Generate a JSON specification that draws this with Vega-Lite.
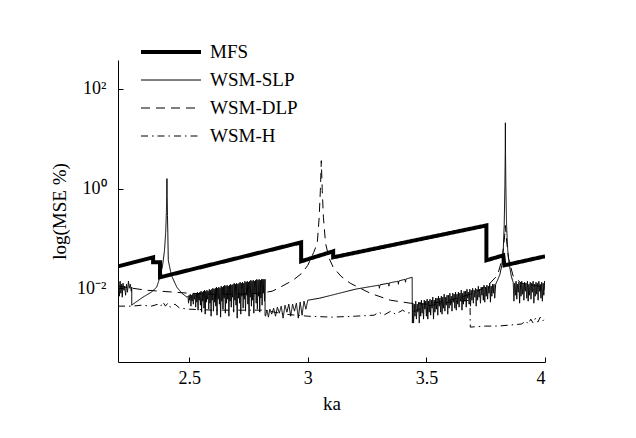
{
"$schema": "https://vega.github.io/schema/vega-lite/v6.json",
"width": 427, "height": 302,
"autosize": {"type": "none"},
"padding": {"left": 118, "top": 60, "right": 91, "bottom": 76},
"background": "white",
"config": {
  "font": "Liberation Serif",
  "view": {"stroke": null},
  "axis": {"grid": false, "domainColor": "black", "tickColor": "black", "labelColor": "black", "titleColor": "black", "labelFontSize": 18, "titleFontSize": 19, "titleFontWeight": "normal", "tickSize": -5, "domainWidth": 1, "tickWidth": 1},
  "legend": {"orient": "none", "legendX": 21, "legendY": -22, "symbolType": "stroke", "symbolSize": 3600, "symbolStrokeColor": "black", "labelFontSize": 19, "labelColor": "black", "labelOffset": 7, "padding": 0, "rowPadding": 0, "clipHeight": 28}
},
"data": {"values": [
{"series":"MFS","ka":2.2,"mse":0.0275},
{"series":"MFS","ka":2.348,"mse":0.0417},
{"series":"MFS","ka":2.348,"mse":0.0331},
{"series":"MFS","ka":2.377,"mse":0.0331},
{"series":"MFS","ka":2.377,"mse":0.0166},
{"series":"MFS","ka":2.972,"mse":0.0832},
{"series":"MFS","ka":2.972,"mse":0.0347},
{"series":"MFS","ka":3.107,"mse":0.055},
{"series":"MFS","ka":3.107,"mse":0.0417},
{"series":"MFS","ka":3.753,"mse":0.182},
{"series":"MFS","ka":3.753,"mse":0.0363},
{"series":"MFS","ka":3.824,"mse":0.0457},
{"series":"MFS","ka":3.829,"mse":0.0288},
{"series":"MFS","ka":4.0,"mse":0.0437},

{"series":"WSM-SLP","ka":2.200,"mse":0.00912},
{"series":"WSM-SLP","ka":2.203,"mse":0.0132},
{"series":"WSM-SLP","ka":2.206,"mse":0.00692},
{"series":"WSM-SLP","ka":2.209,"mse":0.0138},
{"series":"WSM-SLP","ka":2.212,"mse":0.00794},
{"series":"WSM-SLP","ka":2.215,"mse":0.0120},
{"series":"WSM-SLP","ka":2.218,"mse":0.00661},
{"series":"WSM-SLP","ka":2.221,"mse":0.0126},
{"series":"WSM-SLP","ka":2.225,"mse":0.00912},
{"series":"WSM-SLP","ka":2.228,"mse":0.0110},
{"series":"WSM-SLP","ka":2.232,"mse":0.00724},
{"series":"WSM-SLP","ka":2.236,"mse":0.0120},
{"series":"WSM-SLP","ka":2.240,"mse":0.00832},
{"series":"WSM-SLP","ka":2.244,"mse":0.0138},
{"series":"WSM-SLP","ka":2.248,"mse":0.0100},
{"series":"WSM-SLP","ka":2.252,"mse":0.0120},
{"series":"WSM-SLP","ka":2.256,"mse":0.00871},
{"series":"WSM-SLP","ka":2.258,"mse":0.0105},
{"series":"WSM-SLP","ka":2.258,"mse":0.00457},
{"series":"WSM-SLP","ka":2.263,"mse":0.00479},
{"series":"WSM-SLP","ka":2.305,"mse":0.00661},
{"series":"WSM-SLP","ka":2.340,"mse":0.00832},
{"series":"WSM-SLP","ka":2.363,"mse":0.0105},
{"series":"WSM-SLP","ka":2.377,"mse":0.0166},
{"series":"WSM-SLP","ka":2.388,"mse":0.0288},
{"series":"WSM-SLP","ka":2.396,"mse":0.0575},
{"series":"WSM-SLP","ka":2.401,"mse":0.132},
{"series":"WSM-SLP","ka":2.404,"mse":0.331},
{"series":"WSM-SLP","ka":2.4055,"mse":0.724},
{"series":"WSM-SLP","ka":2.4063,"mse":1.585},
{"series":"WSM-SLP","ka":2.407,"mse":0.724},
{"series":"WSM-SLP","ka":2.4085,"mse":0.288},
{"series":"WSM-SLP","ka":2.410,"mse":0.132},
{"series":"WSM-SLP","ka":2.412,"mse":0.0363},
{"series":"WSM-SLP","ka":2.425,"mse":0.0182},
{"series":"WSM-SLP","ka":2.448,"mse":0.0105},
{"series":"WSM-SLP","ka":2.469,"mse":0.00794},
{"series":"WSM-SLP","ka":2.491,"mse":0.00661},
{"series":"WSM-SLP","ka":2.4950,"mse":0.00692},
{"series":"WSM-SLP","ka":2.4975,"mse":0.00501},
{"series":"WSM-SLP","ka":2.5000,"mse":0.00724},
{"series":"WSM-SLP","ka":2.5025,"mse":0.00575},
{"series":"WSM-SLP","ka":2.5050,"mse":0.00759},
{"series":"WSM-SLP","ka":2.5075,"mse":0.00437},
{"series":"WSM-SLP","ka":2.5100,"mse":0.00724},
{"series":"WSM-SLP","ka":2.5125,"mse":0.00550},
{"series":"WSM-SLP","ka":2.5150,"mse":0.00759},
{"series":"WSM-SLP","ka":2.5175,"mse":0.00479},
{"series":"WSM-SLP","ka":2.5200,"mse":0.00794},
{"series":"WSM-SLP","ka":2.5225,"mse":0.00603},
{"series":"WSM-SLP","ka":2.5250,"mse":0.00759},
{"series":"WSM-SLP","ka":2.5275,"mse":0.00417},
{"series":"WSM-SLP","ka":2.5300,"mse":0.00794},
{"series":"WSM-SLP","ka":2.5325,"mse":0.00525},
{"series":"WSM-SLP","ka":2.5350,"mse":0.00832},
{"series":"WSM-SLP","ka":2.5375,"mse":0.00363},
{"series":"WSM-SLP","ka":2.5400,"mse":0.00794},
{"series":"WSM-SLP","ka":2.5425,"mse":0.00575},
{"series":"WSM-SLP","ka":2.5450,"mse":0.00832},
{"series":"WSM-SLP","ka":2.5475,"mse":0.00457},
{"series":"WSM-SLP","ka":2.5500,"mse":0.00871},
{"series":"WSM-SLP","ka":2.5525,"mse":0.00331},
{"series":"WSM-SLP","ka":2.5550,"mse":0.00832},
{"series":"WSM-SLP","ka":2.5575,"mse":0.00550},
{"series":"WSM-SLP","ka":2.5600,"mse":0.00871},
{"series":"WSM-SLP","ka":2.5625,"mse":0.00398},
{"series":"WSM-SLP","ka":2.5650,"mse":0.00912},
{"series":"WSM-SLP","ka":2.5675,"mse":0.00302},
{"series":"WSM-SLP","ka":2.5700,"mse":0.00871},
{"series":"WSM-SLP","ka":2.5725,"mse":0.00525},
{"series":"WSM-SLP","ka":2.5750,"mse":0.00912},
{"series":"WSM-SLP","ka":2.5775,"mse":0.00603},
{"series":"WSM-SLP","ka":2.5800,"mse":0.00871},
{"series":"WSM-SLP","ka":2.5825,"mse":0.00380},
{"series":"WSM-SLP","ka":2.5850,"mse":0.00955},
{"series":"WSM-SLP","ka":2.5875,"mse":0.00501},
{"series":"WSM-SLP","ka":2.5900,"mse":0.00912},
{"series":"WSM-SLP","ka":2.5925,"mse":0.00275},
{"series":"WSM-SLP","ka":2.5950,"mse":0.00955},
{"series":"WSM-SLP","ka":2.5975,"mse":0.00575},
{"series":"WSM-SLP","ka":2.6000,"mse":0.0100},
{"series":"WSM-SLP","ka":2.6025,"mse":0.00347},
{"series":"WSM-SLP","ka":2.6050,"mse":0.00955},
{"series":"WSM-SLP","ka":2.6075,"mse":0.00525},
{"series":"WSM-SLP","ka":2.6100,"mse":0.0100},
{"series":"WSM-SLP","ka":2.6125,"mse":0.00437},
{"series":"WSM-SLP","ka":2.6150,"mse":0.0105},
{"series":"WSM-SLP","ka":2.6175,"mse":0.00288},
{"series":"WSM-SLP","ka":2.6200,"mse":0.0100},
{"series":"WSM-SLP","ka":2.6225,"mse":0.00603},
{"series":"WSM-SLP","ka":2.6250,"mse":0.0105},
{"series":"WSM-SLP","ka":2.6275,"mse":0.00479},
{"series":"WSM-SLP","ka":2.6300,"mse":0.0100},
{"series":"WSM-SLP","ka":2.6325,"mse":0.00263},
{"series":"WSM-SLP","ka":2.6350,"mse":0.0110},
{"series":"WSM-SLP","ka":2.6375,"mse":0.00550},
{"series":"WSM-SLP","ka":2.6400,"mse":0.0105},
{"series":"WSM-SLP","ka":2.6425,"mse":0.00380},
{"series":"WSM-SLP","ka":2.6450,"mse":0.0110},
{"series":"WSM-SLP","ka":2.6475,"mse":0.00631},
{"series":"WSM-SLP","ka":2.6500,"mse":0.0115},
{"series":"WSM-SLP","ka":2.6525,"mse":0.00316},
{"series":"WSM-SLP","ka":2.6550,"mse":0.0110},
{"series":"WSM-SLP","ka":2.6575,"mse":0.00501},
{"series":"WSM-SLP","ka":2.6600,"mse":0.0115},
{"series":"WSM-SLP","ka":2.6625,"mse":0.00603},
{"series":"WSM-SLP","ka":2.6650,"mse":0.0110},
{"series":"WSM-SLP","ka":2.6675,"mse":0.00275},
{"series":"WSM-SLP","ka":2.6700,"mse":0.0115},
{"series":"WSM-SLP","ka":2.6725,"mse":0.00550},
{"series":"WSM-SLP","ka":2.6750,"mse":0.0120},
{"series":"WSM-SLP","ka":2.6775,"mse":0.00417},
{"series":"WSM-SLP","ka":2.6800,"mse":0.0115},
{"series":"WSM-SLP","ka":2.6825,"mse":0.00661},
{"series":"WSM-SLP","ka":2.6850,"mse":0.0120},
{"series":"WSM-SLP","ka":2.6875,"mse":0.00331},
{"series":"WSM-SLP","ka":2.6900,"mse":0.0126},
{"series":"WSM-SLP","ka":2.6925,"mse":0.00575},
{"series":"WSM-SLP","ka":2.6950,"mse":0.0120},
{"series":"WSM-SLP","ka":2.6975,"mse":0.00457},
{"series":"WSM-SLP","ka":2.7000,"mse":0.0126},
{"series":"WSM-SLP","ka":2.7025,"mse":0.00251},
{"series":"WSM-SLP","ka":2.7050,"mse":0.0120},
{"series":"WSM-SLP","ka":2.7075,"mse":0.00631},
{"series":"WSM-SLP","ka":2.7100,"mse":0.0126},
{"series":"WSM-SLP","ka":2.7125,"mse":0.00501},
{"series":"WSM-SLP","ka":2.7150,"mse":0.0132},
{"series":"WSM-SLP","ka":2.7175,"mse":0.00302},
{"series":"WSM-SLP","ka":2.7200,"mse":0.0126},
{"series":"WSM-SLP","ka":2.7225,"mse":0.00692},
{"series":"WSM-SLP","ka":2.7250,"mse":0.0132},
{"series":"WSM-SLP","ka":2.7275,"mse":0.00398},
{"series":"WSM-SLP","ka":2.7300,"mse":0.0126},
{"series":"WSM-SLP","ka":2.7325,"mse":0.00603},
{"series":"WSM-SLP","ka":2.7350,"mse":0.0138},
{"series":"WSM-SLP","ka":2.7375,"mse":0.00347},
{"series":"WSM-SLP","ka":2.7400,"mse":0.0132},
{"series":"WSM-SLP","ka":2.7425,"mse":0.00724},
{"series":"WSM-SLP","ka":2.7450,"mse":0.0138},
{"series":"WSM-SLP","ka":2.7475,"mse":0.00479},
{"series":"WSM-SLP","ka":2.7500,"mse":0.0132},
{"series":"WSM-SLP","ka":2.7525,"mse":0.00275},
{"series":"WSM-SLP","ka":2.7550,"mse":0.0138},
{"series":"WSM-SLP","ka":2.7575,"mse":0.00661},
{"series":"WSM-SLP","ka":2.7600,"mse":0.0145},
{"series":"WSM-SLP","ka":2.7625,"mse":0.00437},
{"series":"WSM-SLP","ka":2.7650,"mse":0.0138},
{"series":"WSM-SLP","ka":2.7675,"mse":0.00575},
{"series":"WSM-SLP","ka":2.7700,"mse":0.0145},
{"series":"WSM-SLP","ka":2.7725,"mse":0.00316},
{"series":"WSM-SLP","ka":2.7750,"mse":0.0138},
{"series":"WSM-SLP","ka":2.7775,"mse":0.00759},
{"series":"WSM-SLP","ka":2.7800,"mse":0.0145},
{"series":"WSM-SLP","ka":2.7825,"mse":0.00501},
{"series":"WSM-SLP","ka":2.7850,"mse":0.0151},
{"series":"WSM-SLP","ka":2.7875,"mse":0.00380},
{"series":"WSM-SLP","ka":2.7900,"mse":0.0145},
{"series":"WSM-SLP","ka":2.7925,"mse":0.00692},
{"series":"WSM-SLP","ka":2.7950,"mse":0.0151},
{"series":"WSM-SLP","ka":2.7975,"mse":0.00331},
{"series":"WSM-SLP","ka":2.8000,"mse":0.0145},
{"series":"WSM-SLP","ka":2.8025,"mse":0.00631},
{"series":"WSM-SLP","ka":2.8050,"mse":0.0151},
{"series":"WSM-SLP","ka":2.8075,"mse":0.00457},
{"series":"WSM-SLP","ka":2.8100,"mse":0.0151},
{"series":"WSM-SLP","ka":2.8125,"mse":0.00794},
{"series":"WSM-SLP","ka":2.8150,"mse":0.0151},
{"series":"WSM-SLP","ka":2.8175,"mse":0.00550},
{"series":"WSM-SLP","ka":2.8200,"mse":0.0151},
{"series":"WSM-SLP","ka":2.8200,"mse":0.00288},
{"series":"WSM-SLP","ka":2.822,"mse":0.00275},
{"series":"WSM-SLP","ka":2.828,"mse":0.00363},
{"series":"WSM-SLP","ka":2.834,"mse":0.00263},
{"series":"WSM-SLP","ka":2.840,"mse":0.00380},
{"series":"WSM-SLP","ka":2.848,"mse":0.00302},
{"series":"WSM-SLP","ka":2.856,"mse":0.00398},
{"series":"WSM-SLP","ka":2.864,"mse":0.00275},
{"series":"WSM-SLP","ka":2.872,"mse":0.00417},
{"series":"WSM-SLP","ka":2.880,"mse":0.00316},
{"series":"WSM-SLP","ka":2.888,"mse":0.00437},
{"series":"WSM-SLP","ka":2.896,"mse":0.00251},
{"series":"WSM-SLP","ka":2.904,"mse":0.00457},
{"series":"WSM-SLP","ka":2.912,"mse":0.00331},
{"series":"WSM-SLP","ka":2.920,"mse":0.00479},
{"series":"WSM-SLP","ka":2.928,"mse":0.00275},
{"series":"WSM-SLP","ka":2.936,"mse":0.00479},
{"series":"WSM-SLP","ka":2.944,"mse":0.00347},
{"series":"WSM-SLP","ka":2.952,"mse":0.00501},
{"series":"WSM-SLP","ka":2.960,"mse":0.00251},
{"series":"WSM-SLP","ka":2.968,"mse":0.00525},
{"series":"WSM-SLP","ka":2.976,"mse":0.00288},
{"series":"WSM-SLP","ka":2.984,"mse":0.00550},
{"series":"WSM-SLP","ka":2.992,"mse":0.00380},
{"series":"WSM-SLP","ka":3.000,"mse":0.00575},
{"series":"WSM-SLP","ka":3.050,"mse":0.00631},
{"series":"WSM-SLP","ka":3.100,"mse":0.00724},
{"series":"WSM-SLP","ka":3.150,"mse":0.00832},
{"series":"WSM-SLP","ka":3.200,"mse":0.00955},
{"series":"WSM-SLP","ka":3.250,"mse":0.0105},
{"series":"WSM-SLP","ka":3.300,"mse":0.0115},
{"series":"WSM-SLP","ka":3.302,"mse":0.0100},
{"series":"WSM-SLP","ka":3.304,"mse":0.0117},
{"series":"WSM-SLP","ka":3.340,"mse":0.0126},
{"series":"WSM-SLP","ka":3.342,"mse":0.0110},
{"series":"WSM-SLP","ka":3.344,"mse":0.0128},
{"series":"WSM-SLP","ka":3.380,"mse":0.0138},
{"series":"WSM-SLP","ka":3.382,"mse":0.0120},
{"series":"WSM-SLP","ka":3.384,"mse":0.0140},
{"series":"WSM-SLP","ka":3.410,"mse":0.0151},
{"series":"WSM-SLP","ka":3.412,"mse":0.0132},
{"series":"WSM-SLP","ka":3.414,"mse":0.0153},
{"series":"WSM-SLP","ka":3.440,"mse":0.0166},
{"series":"WSM-SLP","ka":3.441,"mse":0.00200},
{"series":"WSM-SLP","ka":3.443,"mse":0.00501},
{"series":"WSM-SLP","ka":3.446,"mse":0.00200},
{"series":"WSM-SLP","ka":3.449,"mse":0.00479},
{"series":"WSM-SLP","ka":3.452,"mse":0.00275},
{"series":"WSM-SLP","ka":3.455,"mse":0.00550},
{"series":"WSM-SLP","ka":3.458,"mse":0.00240},
{"series":"WSM-SLP","ka":3.461,"mse":0.00479},
{"series":"WSM-SLP","ka":3.464,"mse":0.00331},
{"series":"WSM-SLP","ka":3.467,"mse":0.00525},
{"series":"WSM-SLP","ka":3.470,"mse":0.00200},
{"series":"WSM-SLP","ka":3.473,"mse":0.00525},
{"series":"WSM-SLP","ka":3.476,"mse":0.00275},
{"series":"WSM-SLP","ka":3.479,"mse":0.00575},
{"series":"WSM-SLP","ka":3.482,"mse":0.00316},
{"series":"WSM-SLP","ka":3.485,"mse":0.00501},
{"series":"WSM-SLP","ka":3.488,"mse":0.00240},
{"series":"WSM-SLP","ka":3.491,"mse":0.00575},
{"series":"WSM-SLP","ka":3.494,"mse":0.00380},
{"series":"WSM-SLP","ka":3.497,"mse":0.00550},
{"series":"WSM-SLP","ka":3.500,"mse":0.00275},
{"series":"WSM-SLP","ka":3.503,"mse":0.00603},
{"series":"WSM-SLP","ka":3.506,"mse":0.00240},
{"series":"WSM-SLP","ka":3.509,"mse":0.00550},
{"series":"WSM-SLP","ka":3.512,"mse":0.00331},
{"series":"WSM-SLP","ka":3.515,"mse":0.00603},
{"series":"WSM-SLP","ka":3.518,"mse":0.00288},
{"series":"WSM-SLP","ka":3.521,"mse":0.00575},
{"series":"WSM-SLP","ka":3.524,"mse":0.00398},
{"series":"WSM-SLP","ka":3.527,"mse":0.00661},
{"series":"WSM-SLP","ka":3.530,"mse":0.00240},
{"series":"WSM-SLP","ka":3.533,"mse":0.00575},
{"series":"WSM-SLP","ka":3.536,"mse":0.00331},
{"series":"WSM-SLP","ka":3.539,"mse":0.00631},
{"series":"WSM-SLP","ka":3.542,"mse":0.00380},
{"series":"WSM-SLP","ka":3.545,"mse":0.00631},
{"series":"WSM-SLP","ka":3.548,"mse":0.00288},
{"series":"WSM-SLP","ka":3.551,"mse":0.00692},
{"series":"WSM-SLP","ka":3.554,"mse":0.00437},
{"series":"WSM-SLP","ka":3.557,"mse":0.00631},
{"series":"WSM-SLP","ka":3.560,"mse":0.00331},
{"series":"WSM-SLP","ka":3.563,"mse":0.00692},
{"series":"WSM-SLP","ka":3.566,"mse":0.00302},
{"series":"WSM-SLP","ka":3.569,"mse":0.00661},
{"series":"WSM-SLP","ka":3.572,"mse":0.00398},
{"series":"WSM-SLP","ka":3.575,"mse":0.00759},
{"series":"WSM-SLP","ka":3.578,"mse":0.00347},
{"series":"WSM-SLP","ka":3.581,"mse":0.00661},
{"series":"WSM-SLP","ka":3.584,"mse":0.00457},
{"series":"WSM-SLP","ka":3.587,"mse":0.00724},
{"series":"WSM-SLP","ka":3.590,"mse":0.00302},
{"series":"WSM-SLP","ka":3.593,"mse":0.00724},
{"series":"WSM-SLP","ka":3.596,"mse":0.00398},
{"series":"WSM-SLP","ka":3.599,"mse":0.00794},
{"series":"WSM-SLP","ka":3.602,"mse":0.00457},
{"series":"WSM-SLP","ka":3.605,"mse":0.00692},
{"series":"WSM-SLP","ka":3.608,"mse":0.00347},
{"series":"WSM-SLP","ka":3.611,"mse":0.00794},
{"series":"WSM-SLP","ka":3.614,"mse":0.00525},
{"series":"WSM-SLP","ka":3.617,"mse":0.00759},
{"series":"WSM-SLP","ka":3.620,"mse":0.00398},
{"series":"WSM-SLP","ka":3.623,"mse":0.00832},
{"series":"WSM-SLP","ka":3.626,"mse":0.00363},
{"series":"WSM-SLP","ka":3.629,"mse":0.00759},
{"series":"WSM-SLP","ka":3.632,"mse":0.00479},
{"series":"WSM-SLP","ka":3.635,"mse":0.00832},
{"series":"WSM-SLP","ka":3.638,"mse":0.00417},
{"series":"WSM-SLP","ka":3.641,"mse":0.00794},
{"series":"WSM-SLP","ka":3.644,"mse":0.00550},
{"series":"WSM-SLP","ka":3.647,"mse":0.00912},
{"series":"WSM-SLP","ka":3.650,"mse":0.00363},
{"series":"WSM-SLP","ka":3.653,"mse":0.00794},
{"series":"WSM-SLP","ka":3.656,"mse":0.00479},
{"series":"WSM-SLP","ka":3.659,"mse":0.00871},
{"series":"WSM-SLP","ka":3.662,"mse":0.00550},
{"series":"WSM-SLP","ka":3.665,"mse":0.00871},
{"series":"WSM-SLP","ka":3.668,"mse":0.00417},
{"series":"WSM-SLP","ka":3.671,"mse":0.00955},
{"series":"WSM-SLP","ka":3.674,"mse":0.00631},
{"series":"WSM-SLP","ka":3.677,"mse":0.00832},
{"series":"WSM-SLP","ka":3.680,"mse":0.00479},
{"series":"WSM-SLP","ka":3.683,"mse":0.00955},
{"series":"WSM-SLP","ka":3.686,"mse":0.00437},
{"series":"WSM-SLP","ka":3.689,"mse":0.00912},
{"series":"WSM-SLP","ka":3.692,"mse":0.00575},
{"series":"WSM-SLP","ka":3.695,"mse":0.0100},
{"series":"WSM-SLP","ka":3.698,"mse":0.00501},
{"series":"WSM-SLP","ka":3.701,"mse":0.00912},
{"series":"WSM-SLP","ka":3.704,"mse":0.00661},
{"series":"WSM-SLP","ka":3.707,"mse":0.0100},
{"series":"WSM-SLP","ka":3.710,"mse":0.00437},
{"series":"WSM-SLP","ka":3.713,"mse":0.00955},
{"series":"WSM-SLP","ka":3.716,"mse":0.00575},
{"series":"WSM-SLP","ka":3.719,"mse":0.0110},
{"series":"WSM-SLP","ka":3.722,"mse":0.00661},
{"series":"WSM-SLP","ka":3.725,"mse":0.00955},
{"series":"WSM-SLP","ka":3.728,"mse":0.00501},
{"series":"WSM-SLP","ka":3.731,"mse":0.0105},
{"series":"WSM-SLP","ka":3.734,"mse":0.00724},
{"series":"WSM-SLP","ka":3.737,"mse":0.0105},
{"series":"WSM-SLP","ka":3.740,"mse":0.00575},
{"series":"WSM-SLP","ka":3.743,"mse":0.0115},
{"series":"WSM-SLP","ka":3.746,"mse":0.00525},
{"series":"WSM-SLP","ka":3.749,"mse":0.0105},
{"series":"WSM-SLP","ka":3.752,"mse":0.00692},
{"series":"WSM-SLP","ka":3.755,"mse":0.0115},
{"series":"WSM-SLP","ka":3.758,"mse":0.00603},
{"series":"WSM-SLP","ka":3.761,"mse":0.0110},
{"series":"WSM-SLP","ka":3.764,"mse":0.00794},
{"series":"WSM-SLP","ka":3.767,"mse":0.0126},
{"series":"WSM-SLP","ka":3.770,"mse":0.00525},
{"series":"WSM-SLP","ka":3.773,"mse":0.0110},
{"series":"WSM-SLP","ka":3.776,"mse":0.00692},
{"series":"WSM-SLP","ka":3.779,"mse":0.0120},
{"series":"WSM-SLP","ka":3.782,"mse":0.00794},
{"series":"WSM-SLP","ka":3.785,"mse":0.0120},
{"series":"WSM-SLP","ka":3.788,"mse":0.00631},
{"series":"WSM-SLP","ka":3.792,"mse":0.0120},
{"series":"WSM-SLP","ka":3.800,"mse":0.0145},
{"series":"WSM-SLP","ka":3.810,"mse":0.0191},
{"series":"WSM-SLP","ka":3.818,"mse":0.0288},
{"series":"WSM-SLP","ka":3.824,"mse":0.0575},
{"series":"WSM-SLP","ka":3.828,"mse":0.182},
{"series":"WSM-SLP","ka":3.831,"mse":1.148},
{"series":"WSM-SLP","ka":3.8325,"mse":5.754},
{"series":"WSM-SLP","ka":3.833,"mse":20.9},
{"series":"WSM-SLP","ka":3.8335,"mse":5.754},
{"series":"WSM-SLP","ka":3.835,"mse":1.148},
{"series":"WSM-SLP","ka":3.838,"mse":0.182},
{"series":"WSM-SLP","ka":3.843,"mse":0.0575},
{"series":"WSM-SLP","ka":3.850,"mse":0.0288},
{"series":"WSM-SLP","ka":3.858,"mse":0.0174},
{"series":"WSM-SLP","ka":3.863,"mse":0.0145},
{"series":"WSM-SLP","ka":3.866,"mse":0.0132},
{"series":"WSM-SLP","ka":3.869,"mse":0.00550},
{"series":"WSM-SLP","ka":3.872,"mse":0.0126},
{"series":"WSM-SLP","ka":3.875,"mse":0.00724},
{"series":"WSM-SLP","ka":3.878,"mse":0.0138},
{"series":"WSM-SLP","ka":3.881,"mse":0.00603},
{"series":"WSM-SLP","ka":3.884,"mse":0.0120},
{"series":"WSM-SLP","ka":3.887,"mse":0.00832},
{"series":"WSM-SLP","ka":3.890,"mse":0.0132},
{"series":"WSM-SLP","ka":3.893,"mse":0.00501},
{"series":"WSM-SLP","ka":3.896,"mse":0.0126},
{"series":"WSM-SLP","ka":3.899,"mse":0.00692},
{"series":"WSM-SLP","ka":3.902,"mse":0.0138},
{"series":"WSM-SLP","ka":3.905,"mse":0.00759},
{"series":"WSM-SLP","ka":3.908,"mse":0.0120},
{"series":"WSM-SLP","ka":3.911,"mse":0.00575},
{"series":"WSM-SLP","ka":3.914,"mse":0.0132},
{"series":"WSM-SLP","ka":3.917,"mse":0.00871},
{"series":"WSM-SLP","ka":3.920,"mse":0.0126},
{"series":"WSM-SLP","ka":3.923,"mse":0.00631},
{"series":"WSM-SLP","ka":3.926,"mse":0.0138},
{"series":"WSM-SLP","ka":3.929,"mse":0.00550},
{"series":"WSM-SLP","ka":3.932,"mse":0.0120},
{"series":"WSM-SLP","ka":3.935,"mse":0.00724},
{"series":"WSM-SLP","ka":3.938,"mse":0.0132},
{"series":"WSM-SLP","ka":3.941,"mse":0.00603},
{"series":"WSM-SLP","ka":3.944,"mse":0.0126},
{"series":"WSM-SLP","ka":3.947,"mse":0.00832},
{"series":"WSM-SLP","ka":3.950,"mse":0.0138},
{"series":"WSM-SLP","ka":3.953,"mse":0.00501},
{"series":"WSM-SLP","ka":3.956,"mse":0.0120},
{"series":"WSM-SLP","ka":3.959,"mse":0.00692},
{"series":"WSM-SLP","ka":3.962,"mse":0.0132},
{"series":"WSM-SLP","ka":3.965,"mse":0.00759},
{"series":"WSM-SLP","ka":3.968,"mse":0.0126},
{"series":"WSM-SLP","ka":3.971,"mse":0.00575},
{"series":"WSM-SLP","ka":3.974,"mse":0.0138},
{"series":"WSM-SLP","ka":3.977,"mse":0.00871},
{"series":"WSM-SLP","ka":3.980,"mse":0.0120},
{"series":"WSM-SLP","ka":3.983,"mse":0.00631},
{"series":"WSM-SLP","ka":3.986,"mse":0.0132},
{"series":"WSM-SLP","ka":3.989,"mse":0.00550},
{"series":"WSM-SLP","ka":3.992,"mse":0.0126},
{"series":"WSM-SLP","ka":3.995,"mse":0.00724},
{"series":"WSM-SLP","ka":3.998,"mse":0.0138},
{"series":"WSM-SLP","ka":4.000,"mse":0.00912},

{"series":"WSM-DLP","ka":2.200,"mse":0.0110},
{"series":"WSM-DLP","ka":2.260,"mse":0.0100},
{"series":"WSM-DLP","ka":2.320,"mse":0.00912},
{"series":"WSM-DLP","ka":2.380,"mse":0.00871},
{"series":"WSM-DLP","ka":2.440,"mse":0.00832},
{"series":"WSM-DLP","ka":2.500,"mse":0.00794},
{"series":"WSM-DLP","ka":2.600,"mse":0.00759},
{"series":"WSM-DLP","ka":2.700,"mse":0.00759},
{"series":"WSM-DLP","ka":2.800,"mse":0.00794},
{"series":"WSM-DLP","ka":2.850,"mse":0.00871},
{"series":"WSM-DLP","ka":2.884,"mse":0.0105},
{"series":"WSM-DLP","ka":2.938,"mse":0.0145},
{"series":"WSM-DLP","ka":2.975,"mse":0.0200},
{"series":"WSM-DLP","ka":3.000,"mse":0.0288},
{"series":"WSM-DLP","ka":3.025,"mse":0.0525},
{"series":"WSM-DLP","ka":3.040,"mse":0.0794},
{"series":"WSM-DLP","ka":3.048,"mse":0.263},
{"series":"WSM-DLP","ka":3.053,"mse":0.912},
{"series":"WSM-DLP","ka":3.057,"mse":3.63},
{"series":"WSM-DLP","ka":3.061,"mse":0.912},
{"series":"WSM-DLP","ka":3.066,"mse":0.263},
{"series":"WSM-DLP","ka":3.075,"mse":0.0794},
{"series":"WSM-DLP","ka":3.090,"mse":0.0398},
{"series":"WSM-DLP","ka":3.107,"mse":0.0263},
{"series":"WSM-DLP","ka":3.140,"mse":0.0174},
{"series":"WSM-DLP","ka":3.179,"mse":0.0126},
{"series":"WSM-DLP","ka":3.263,"mse":0.00794},
{"series":"WSM-DLP","ka":3.348,"mse":0.00575},
{"series":"WSM-DLP","ka":3.432,"mse":0.00501},
{"series":"WSM-DLP","ka":3.500,"mse":0.00479},
{"series":"WSM-DLP","ka":3.600,"mse":0.00575},
{"series":"WSM-DLP","ka":3.700,"mse":0.00794},
{"series":"WSM-DLP","ka":3.760,"mse":0.0115},
{"series":"WSM-DLP","ka":3.800,"mse":0.0182},
{"series":"WSM-DLP","ka":3.820,"mse":0.0398},
{"series":"WSM-DLP","ka":3.830,"mse":0.115},
{"series":"WSM-DLP","ka":3.833,"mse":0.182},
{"series":"WSM-DLP","ka":3.836,"mse":0.115},
{"series":"WSM-DLP","ka":3.846,"mse":0.0398},
{"series":"WSM-DLP","ka":3.866,"mse":0.0174},
{"series":"WSM-DLP","ka":3.900,"mse":0.0126},
{"series":"WSM-DLP","ka":4.000,"mse":0.0105},

{"series":"WSM-H","ka":2.200,"mse":0.00437},
{"series":"WSM-H","ka":2.260,"mse":0.00437},
{"series":"WSM-H","ka":2.300,"mse":0.00457},
{"series":"WSM-H","ka":2.340,"mse":0.00437},
{"series":"WSM-H","ka":2.370,"mse":0.00479},
{"series":"WSM-H","ka":2.380,"mse":0.00437},
{"series":"WSM-H","ka":2.390,"mse":0.00525},
{"series":"WSM-H","ka":2.400,"mse":0.00437},
{"series":"WSM-H","ka":2.410,"mse":0.00501},
{"series":"WSM-H","ka":2.420,"mse":0.00417},
{"series":"WSM-H","ka":2.440,"mse":0.00479},
{"series":"WSM-H","ka":2.460,"mse":0.00398},
{"series":"WSM-H","ka":2.500,"mse":0.00380},
{"series":"WSM-H","ka":2.600,"mse":0.00363},
{"series":"WSM-H","ka":2.700,"mse":0.00363},
{"series":"WSM-H","ka":2.820,"mse":0.00363},
{"series":"WSM-H","ka":2.900,"mse":0.00302},
{"series":"WSM-H","ka":3.000,"mse":0.00275},
{"series":"WSM-H","ka":3.100,"mse":0.00263},
{"series":"WSM-H","ka":3.200,"mse":0.00275},
{"series":"WSM-H","ka":3.280,"mse":0.00288},
{"series":"WSM-H","ka":3.300,"mse":0.00331},
{"series":"WSM-H","ka":3.320,"mse":0.00288},
{"series":"WSM-H","ka":3.350,"mse":0.00347},
{"series":"WSM-H","ka":3.370,"mse":0.00302},
{"series":"WSM-H","ka":3.400,"mse":0.00363},
{"series":"WSM-H","ka":3.420,"mse":0.00316},
{"series":"WSM-H","ka":3.440,"mse":0.00331},
{"series":"WSM-H","ka":3.500,"mse":0.00437},
{"series":"WSM-H","ka":3.600,"mse":0.00525},
{"series":"WSM-H","ka":3.684,"mse":0.00575},
{"series":"WSM-H","ka":3.685,"mse":0.00166},
{"series":"WSM-H","ka":3.750,"mse":0.00174},
{"series":"WSM-H","ka":3.800,"mse":0.00174},
{"series":"WSM-H","ka":3.850,"mse":0.00182},
{"series":"WSM-H","ka":3.900,"mse":0.00191},
{"series":"WSM-H","ka":3.920,"mse":0.00219},
{"series":"WSM-H","ka":3.930,"mse":0.00191},
{"series":"WSM-H","ka":3.940,"mse":0.00240},
{"series":"WSM-H","ka":3.950,"mse":0.00200},
{"series":"WSM-H","ka":3.960,"mse":0.00251},
{"series":"WSM-H","ka":3.970,"mse":0.00209},
{"series":"WSM-H","ka":3.980,"mse":0.00263},
{"series":"WSM-H","ka":3.990,"mse":0.00219},
{"series":"WSM-H","ka":4.000,"mse":0.00251}
]},
"mark": {"type": "line", "clip": true, "color": "black", "strokeJoin": "miter"},
"encoding": {
  "x": {"field": "ka", "type": "quantitative",
        "scale": {"domain": [2.2, 4], "nice": false, "zero": false},
        "axis": {"title": "ka", "values": [2.5, 3, 3.5, 4], "format": "~g", "labelPadding": 12, "titleY": 41, "titleBaseline": "middle"}},
  "y": {"field": "mse", "type": "quantitative",
        "scale": {"type": "log", "domain": [0.000331, 380], "nice": false},
        "axis": {"title": "log(MSE %)", "values": [0.01, 1, 100], "labelExpr": "datum.value >= 50 ? '10²' : (datum.value >= 0.5 ? '10⁰' : '10⁻²')", "labelPadding": 17, "titleX": -59, "titleBaseline": "middle"}},
  "strokeDash": {"field": "series", "type": "nominal",
        "scale": {"domain": ["MFS", "WSM-SLP", "WSM-DLP", "WSM-H"], "range": [[1, 0], [1, 0], [9, 6], [7, 4, 1.5, 4]]},
        "legend": {"title": null}},
  "strokeWidth": {"field": "series", "type": "nominal",
        "scale": {"type": "ordinal", "domain": ["MFS", "WSM-SLP", "WSM-DLP", "WSM-H"], "range": [4, 1, 1, 1]},
        "legend": {"title": null}},
  "order": {"value": null}
}
}
